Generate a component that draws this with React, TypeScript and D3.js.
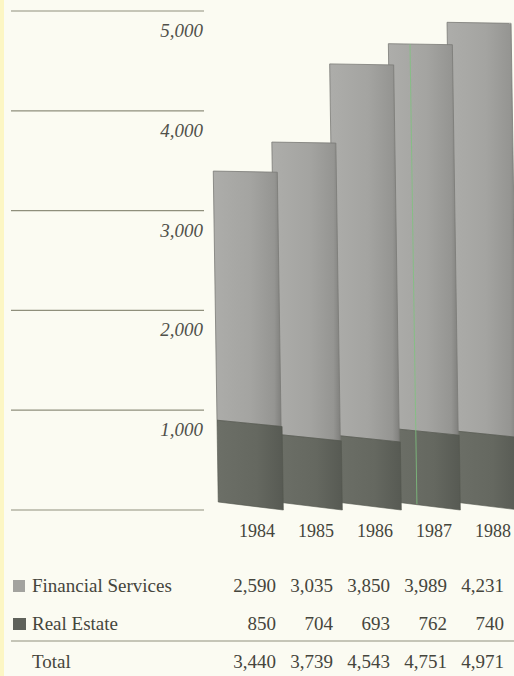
import React from "react";
import * as d3 from "d3";

const years = ["1984", "1985", "1986", "1987", "1988"];
const financialServices = [2590, 3035, 3850, 3989, 4231];
const realEstate = [850, 704, 693, 762, 740];
const totals = [3440, 3739, 4543, 4751, 4971];
const gridTicks = [0, 1000, 2000, 3000, 4000, 5000];
const seriesNames = ["Financial Services", "Real Estate"];

const fmt = d3.format(",");

export default function App() {
  const W = 514;
  const H = 676;
  const serif = "'Liberation Serif', 'Times New Roman', serif";
  const textColor = "#45453c";

  // scales
  const gy = d3.scaleLinear().domain([0, 5000]).range([510, 11]);
  const yB = d3.scaleLinear().domain([0, 5000]).range([506, 20]);
  const xB = d3.scaleLinear().domain([0, 4]).range([211, 447]);
  const colX = d3.scaleLinear().domain([0, 4]).range([276, 504]);
  const barW = 64;

  const lean = (y: number) => 0.015 * (y - 20);
  const slant = (v: number) => Math.max(1, 8 - 0.002 * v);

  const pt = (x: number, y: number) => `${x + lean(y)},${y}`;

  const bars = years.map((yr, i) => {
    const L = xB(i);
    const R = L + barW;
    const tot = financialServices[i] + realEstate[i];
    const sT = slant(tot);
    const sM = slant(realEstate[i]);
    const sB = slant(0);
    const tL = yB(tot) - sT / 2, tR = yB(tot) + sT / 2;
    const mL = yB(realEstate[i]) - sM / 2, mR = yB(realEstate[i]) + sM / 2;
    const bL = yB(0) - sB / 2, bR = yB(0) + sB / 2;
    const light = [pt(L, tL), pt(R, tR), pt(R, mR), pt(L, mL)].join(" ");
    const dark = [pt(L, mL), pt(R + 1, mR), pt(R + 1, bR), pt(L, bL)].join(" ");
    return { yr, i, light, dark, L };
  });

  const order = [...bars].reverse();

  return (
    <div style={{ position: "absolute", left: 0, top: 0, width: W, height: H }}>
      <svg width={W} height={H} viewBox={`0 0 ${W} ${H}`} style={{ display: "block" }}>
        <defs>
          <linearGradient id="gLight" x1="0" x2="1" y1="0" y2="0">
            <stop offset="0" stopColor="#adadaa" />
            <stop offset="0.55" stopColor="#a4a4a1" />
            <stop offset="0.9" stopColor="#959592" />
            <stop offset="1" stopColor="#80807d" />
          </linearGradient>
          <linearGradient id="gDark" x1="0" x2="1" y1="0" y2="0">
            <stop offset="0" stopColor="#6c6f67" />
            <stop offset="0.6" stopColor="#656860" />
            <stop offset="1" stopColor="#575a53" />
          </linearGradient>
        </defs>
        <rect x={0} y={0} width={W} height={H} fill="#fbfbf2" />
        <rect x={0} y={0} width={4} height={H} fill="#fcf6c4" />

        {/* grid lines */}
        {gridTicks.map((t) => (
          <line key={"g" + t} x1={11} x2={204} y1={gy(t)} y2={gy(t)} stroke="#8f8f7c" strokeWidth={1.2} />
        ))}
        {gridTicks.filter((t) => t > 0).map((t) => (
          <text key={"l" + t} x={203} y={gy(t) + 26} textAnchor="end" fontFamily={serif}
            fontStyle="italic" fontSize={19} fill="#50504a">{fmt(t)}</text>
        ))}

        {/* bars, earlier years in front */}
        {order.map((b) => (
          <g key={b.yr}>
            <polygon points={b.light} fill="url(#gLight)" stroke="#7a7a76" strokeWidth={0.8} />
            <polygon points={b.dark} fill="url(#gDark)" stroke="#53564e" strokeWidth={0.6} />
          </g>
        ))}
        {/* scan artifact line on 1987 bar */}
        <line x1={xB(3) + 22} x2={xB(3) + 22 + lean(504) - lean(43)} y1={yB(totals[3])} y2={504}
          stroke="#7fc47f" strokeWidth={1} opacity={0.8} />

        {/* year labels */}
        {years.map((yr, i) => (
          <text key={"y" + yr} x={xB(i) + 46} y={537} textAnchor="middle" fontFamily={serif}
            fontSize={18} fill={textColor}>{yr}</text>
        ))}

        {/* legend + table */}
        <rect x={13} y={580} width={12} height={12} fill="#a3a39f" />
        <rect x={13} y={618} width={13} height={12} fill="#5f625b" />
        <text x={32} y={592} fontFamily={serif} fontSize={19} fill={textColor}>{seriesNames[0]}</text>
        <text x={32} y={630} fontFamily={serif} fontSize={19} fill={textColor}>{seriesNames[1]}</text>
        <text x={32} y={668} fontFamily={serif} fontSize={19} fill={textColor}>Total</text>
        <line x1={11} x2={514} y1={641} y2={641} stroke="#8f8f7c" strokeWidth={1.2} />

        {financialServices.map((v, i) => (
          <text key={"f" + i} x={colX(i)} y={592} textAnchor="end" fontFamily={serif}
            fontSize={19} fill={textColor}>{fmt(v)}</text>
        ))}
        {realEstate.map((v, i) => (
          <text key={"r" + i} x={colX(i)} y={630} textAnchor="end" fontFamily={serif}
            fontSize={19} fill={textColor}>{fmt(v)}</text>
        ))}
        {totals.map((v, i) => (
          <text key={"t" + i} x={colX(i)} y={668} textAnchor="end" fontFamily={serif}
            fontSize={19} fill={textColor}>{fmt(v)}</text>
        ))}
      </svg>
    </div>
  );
}
